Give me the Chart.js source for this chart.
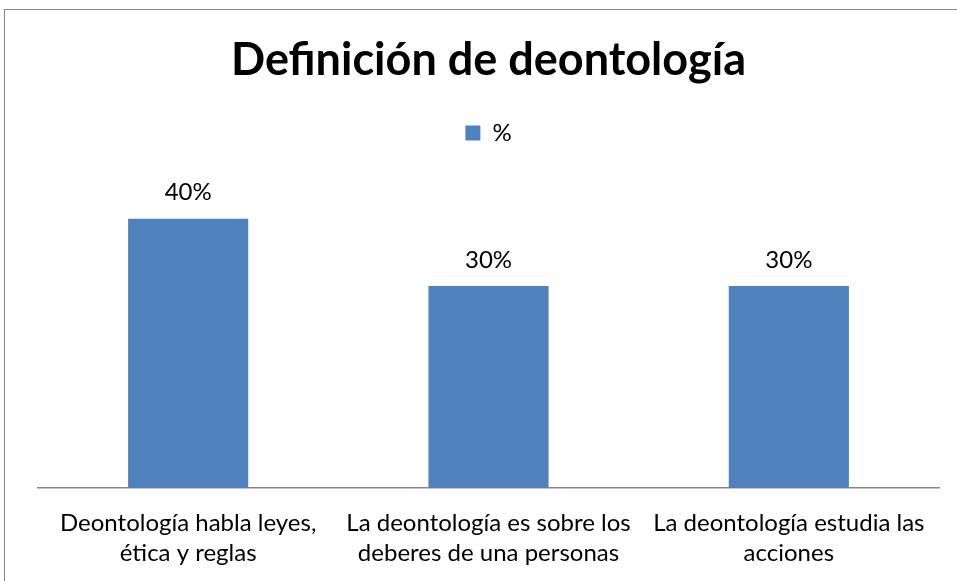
<!DOCTYPE html>
<html>
<head>
<meta charset="utf-8">
<script src="https://cdn.jsdelivr.net/npm/chart.js@4.4.0/dist/chart.umd.min.js"></script>
<style>
  body { margin: 0; background: #fff; overflow: hidden; }
  #wrap { position: relative; width: 957px; height: 581px; }
  #frame { position: absolute; left: 4px; top: 9px; width: 1000px; height: 1000px; border: 1px solid #868686; }
  canvas { position: absolute; left: 0; top: 0; }
</style>
</head>
<body>
<div id="wrap">
  <div id="frame"></div>
  <canvas id="chart" width="957" height="581"></canvas>
</div>
<script>
// chart data
var categories = [
    ['Deontología habla leyes,', 'ética y reglas'],
    ['La deontología es sobre los', 'deberes de una personas'],
    ['La deontología estudia las', 'acciones']
];
var percentValues = [40, 30, 30];
var seriesName = '%';

// value labels above each bar
var barLabels = {
    id: 'barLabels',
    afterDatasetsDraw: function(chart) {
        var ctx = chart.ctx;
        ctx.save();
        ctx.font = '24px Lato';
        ctx.fillStyle = '#000';
        ctx.textAlign = 'center';
        ctx.textBaseline = 'middle';
        chart.getDatasetMeta(0).data.forEach(function(bar, i) {
            ctx.fillText(percentValues[i] + '%', bar.x, bar.y - 26);
        });
        ctx.restore();
    }
};

// extra space under the legend
var legendSpace = {
    id: 'legendSpace',
    beforeInit: function(chart) {
        var origFit = chart.legend.fit;
        chart.legend.fit = function() {
            origFit.bind(chart.legend)();
            this.height += 30;
        };
    }
};

var ctx = document.getElementById('chart').getContext('2d');
var chart = new Chart(ctx, {
    type: 'bar',
    data: {
        labels: categories,
        datasets: [{
            label: seriesName,
            data: percentValues,
            backgroundColor: '#4F81BD',
            categoryPercentage: 1.0,
            barPercentage: 0.4
        }]
    },
    options: {
        responsive: false,
        animation: false,
        layout: { padding: { left: 38, right: 18, top: 0, bottom: 1 } },
        plugins: {
            title: {
                display: true,
                text: 'Definición de deontología',
                color: '#000',
                font: { family: 'Lato', size: 45, weight: 'bold' },
                padding: { top: 33, bottom: 26 }
            },
            legend: {
                display: true,
                labels: {
                    color: '#000',
                    font: { family: 'Lato', size: 24 },
                    boxWidth: 15,
                    boxHeight: 15,
                    padding: 8
                }
            },
            tooltip: { enabled: false }
        },
        scales: {
            x: {
                grid: { display: false },
                border: { display: true, color: '#868686', width: 1.5 },
                ticks: {
                    color: '#000',
                    font: { family: 'Lato', size: 24, lineHeight: 1.25 },
                    padding: 12,
                    maxRotation: 0,
                    autoSkip: false
                }
            },
            y: {
                display: false,
                min: 0,
                max: 45
            }
        }
    },
    plugins: [barLabels, legendSpace]
});
</script>
</body>
</html>
